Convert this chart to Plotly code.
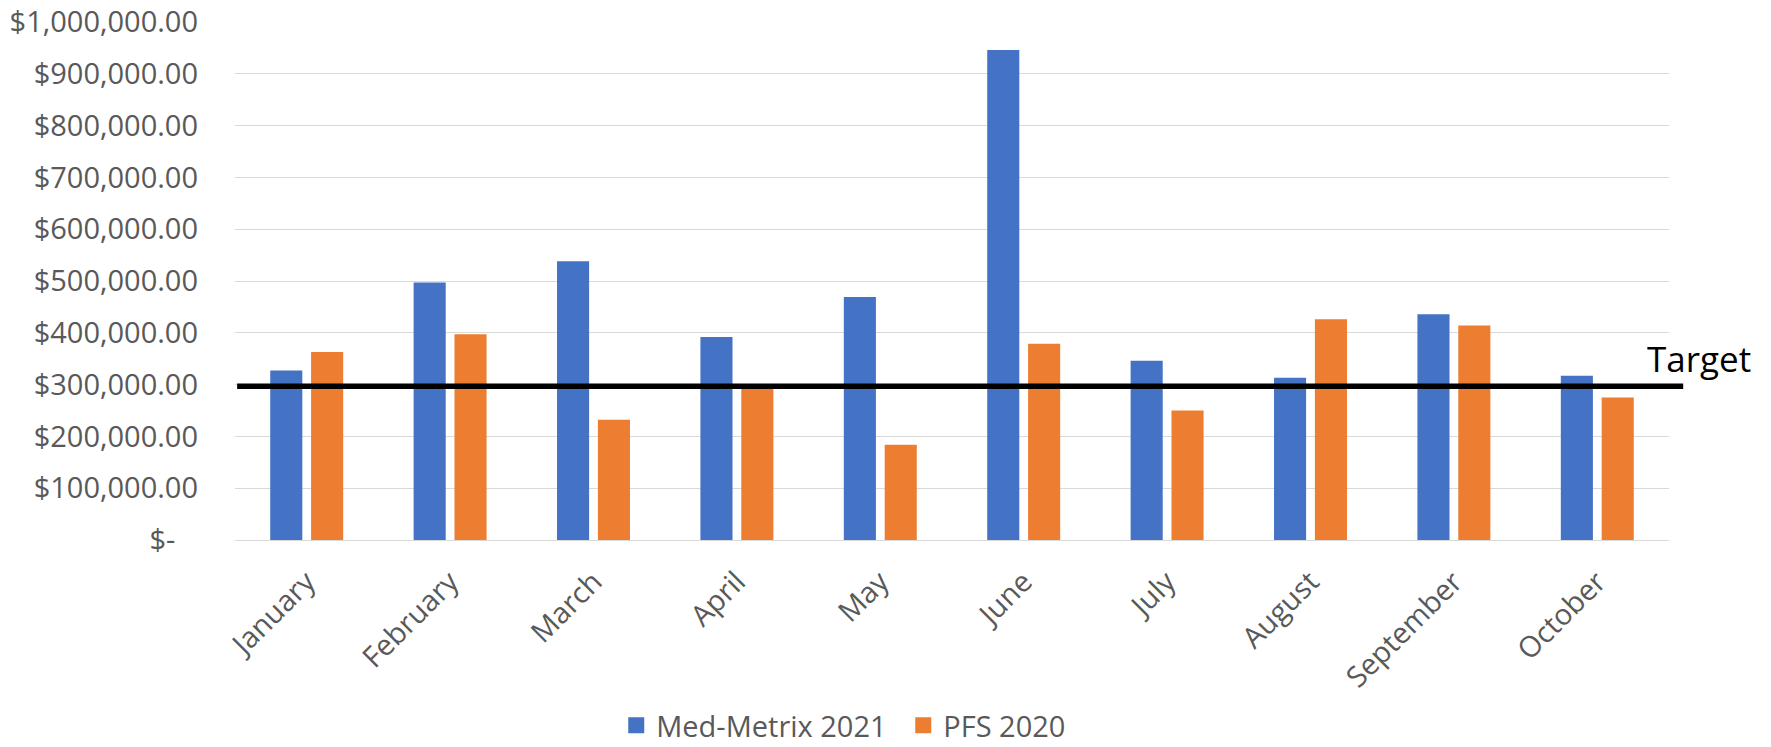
import plotly.graph_objects as go

months = ["January", "February", "March", "April", "May", "June",
          "July", "August", "September", "October"]
med_metrix_2021 = [327000, 497000, 538000, 392000, 469000, 946000,
                   346000, 313000, 436000, 317000]
pfs_2020 = [363000, 397000, 232000, 292000, 184000, 379000,
            250000, 426000, 414000, 275000]
target_value = 297000
series_names = ["Med-Metrix 2021", "PFS 2020"]
tick_values = [0, 100000, 200000, 300000, 400000, 500000,
               600000, 700000, 800000, 900000, 1000000]
tick_labels = ["$-\u00a0\u00a0\u00a0"] + ["${:,.2f}".format(v) for v in tick_values[1:]]

BLUE = "#4472C4"
ORANGE = "#ED7D31"
GREY = "#595959"
FONT = "Open Sans"

fig = go.Figure()
fig.add_trace(go.Bar(x=months, y=med_metrix_2021, name=series_names[0],
                     marker=dict(color=BLUE, line=dict(width=0)), showlegend=False))
fig.add_trace(go.Bar(x=months, y=pfs_2020, name=series_names[1],
                     marker=dict(color=ORANGE, line=dict(width=0)), showlegend=False))
# legend entries with larger square swatches
for name, col in zip(series_names, [BLUE, ORANGE]):
    fig.add_trace(go.Scatter(x=[None], y=[None], mode="markers", name=name,
                             marker=dict(symbol="square", size=18, color=col)))

fig.add_shape(type="line", xref="paper", yref="y", x0=0.0015, x1=1.0099,
              y0=target_value, y1=target_value, line=dict(color="black", width=5.5))
fig.add_annotation(text="Target", xref="paper", yref="y", x=0.9834, y=target_value,
                   xanchor="left", yanchor="bottom", showarrow=False, yshift=2,
                   font=dict(family=FONT, size=35, color="black"))

fig.update_layout(
    width=1771, height=747,
    margin=dict(l=235, r=102, t=21.5, b=206.5, pad=0, autoexpand=False),
    paper_bgcolor="white", plot_bgcolor="white",
    barmode="group", bargap=0.43, bargroupgap=0.215,
    font=dict(family=FONT, color=GREY, size=29),
    legend=dict(orientation="h", x=0.466, xanchor="center", y=-0.358, yanchor="middle",
                font=dict(family=FONT, size=29, color=GREY), itemsizing="trace",
                entrywidth=242, bgcolor="rgba(0,0,0,0)"),
)
fig.update_yaxes(range=[0, 1000000], tickvals=tick_values, ticktext=tick_labels,
                 showgrid=True, gridcolor="#d9d9d9", gridwidth=1.3, zeroline=True,
                 zerolinecolor="#d9d9d9", zerolinewidth=1.3, showline=False,
                 ticks="", ticklabelstandoff=36, automargin=False,
                 tickfont=dict(family=FONT, size=29, color=GREY))
fig.update_xaxes(tickangle=-45, showline=False, ticks="", ticklabelstandoff=18,
                 automargin=False,
                 tickfont=dict(family=FONT, size=29, color=GREY))

fig.write_html("out.html")
